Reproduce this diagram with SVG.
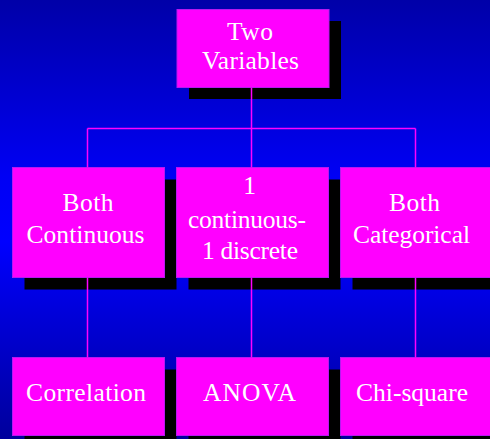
<svg xmlns="http://www.w3.org/2000/svg" width="490" height="439" viewBox="0 0 490 439">
<defs>
<linearGradient id="bg" x1="0" y1="0" x2="0" y2="1">
<stop offset="0" stop-color="#0000a8"/>
<stop offset="0.4" stop-color="#0000f4"/>
<stop offset="0.55" stop-color="#0000ff"/>
<stop offset="0.72" stop-color="#0000d8"/>
<stop offset="1" stop-color="#00009c"/>
</linearGradient>
</defs>
<style>
.sh{fill:#000000}
.bx{fill:#ff00ff;stroke:#b818f0;stroke-width:1}
.t{font-family:"Liberation Serif","Times New Roman",serif;font-size:25.5px;fill:#ffffff;text-anchor:middle}
.c{stroke:#ff00ff;stroke-width:1.5;fill:none}
</style>
<rect x="0" y="0" width="490" height="439" fill="url(#bg)"/>
<g id="n-two-variables">
<rect class="sh" x="189" y="21" width="152" height="78"/>
<rect class="bx" x="177" y="9.5" width="152" height="78"/>
<text class="t" x="250" y="39.5" textLength="46" lengthAdjust="spacing">Two</text>
<text class="t" x="250.5" y="69" textLength="97" lengthAdjust="spacing">Variables</text>
</g>
<g id="n-both-continuous">
<rect class="sh" x="24.5" y="179.5" width="152" height="110"/>
<rect class="bx" x="12.5" y="167.5" width="152" height="110"/>
<text class="t" x="88" y="211" textLength="51" lengthAdjust="spacing">Both</text>
<text class="t" x="85.5" y="242.5" textLength="118" lengthAdjust="spacing">Continuous</text>
</g>
<g id="n-one-each">
<rect class="sh" x="188.5" y="179.5" width="152" height="110"/>
<rect class="bx" x="176.5" y="167.5" width="152" height="110"/>
<text class="t" x="249.5" y="194">1</text>
<text class="t" x="247" y="227.5" textLength="118" lengthAdjust="spacing">continuous-</text>
<text class="t" x="250" y="259" textLength="96" lengthAdjust="spacing">1 discrete</text>
</g>
<g id="n-both-categorical">
<rect class="sh" x="352.5" y="179.5" width="152" height="110"/>
<rect class="bx" x="340.5" y="167.5" width="152" height="110"/>
<text class="t" x="414.5" y="211" textLength="51" lengthAdjust="spacing">Both</text>
<text class="t" x="411.5" y="242.5" textLength="117" lengthAdjust="spacing">Categorical</text>
</g>
<g id="n-correlation">
<rect class="sh" x="24.5" y="369.5" width="152" height="78"/>
<rect class="bx" x="12.5" y="357.5" width="152" height="78"/>
<text class="t" x="86" y="401" textLength="120" lengthAdjust="spacing">Correlation</text>
</g>
<g id="n-anova">
<rect class="sh" x="188.5" y="369.5" width="152" height="78"/>
<rect class="bx" x="176.5" y="357.5" width="152" height="78"/>
<text class="t" x="249.5" y="401" textLength="93" lengthAdjust="spacing">ANOVA</text>
</g>
<g id="n-chi-square">
<rect class="sh" x="352.5" y="369.5" width="152" height="78"/>
<rect class="bx" x="340.5" y="357.5" width="152" height="78"/>
<text class="t" x="412" y="401" textLength="112" lengthAdjust="spacing">Chi-square</text>
</g>
<g id="connectors">
<path class="c" d="M251.5 87.5 V128.5 M87.5 128.5 H415.5 M87.5 128.5 V167.5 M251.5 128.5 V167.5 M415.5 128.5 V167.5"/>
<path class="c" d="M87.5 277.5 V357.5 M251.5 277.5 V357.5 M415.5 277.5 V357.5"/>
</g>
</svg>
